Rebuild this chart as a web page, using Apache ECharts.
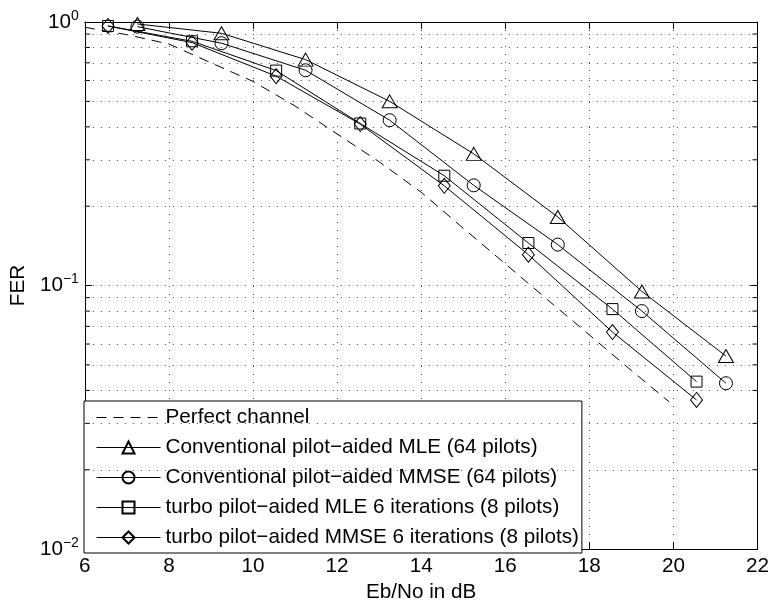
<!DOCTYPE html>
<html>
<head>
<meta charset="utf-8">
<script src="https://cdn.jsdelivr.net/npm/echarts@6/dist/echarts.min.js"></script>
<style>
  html, body { margin: 0; padding: 0; background: #fff; }
  #chart { width: 772px; height: 608px; }
</style>
</head>
<body>
<div id="chart"></div>
<script>
// Eb/No points (dB)
var xPerfect = [6, 7, 8, 9, 10, 11, 12, 13, 14, 15, 16, 17, 18, 19, 19.9];
var xConv = [7.25, 9.25, 11.25, 13.25, 15.25, 17.25, 19.25, 21.25];
var xTurbo = [6.55, 8.55, 10.55, 12.55, 14.55, 16.55, 18.55, 20.55];

// FER values
var ferPerfect = [0.955, 0.895, 0.825, 0.70, 0.595, 0.48, 0.376, 0.295, 0.226, 0.165, 0.121, 0.0885, 0.065, 0.0476, 0.0362];
var ferConvMLE = [0.983, 0.906, 0.72, 0.50, 0.316, 0.182, 0.095, 0.054];
var ferConvMMSE = [0.96, 0.831, 0.656, 0.424, 0.240, 0.143, 0.080, 0.0426];
var ferTurboMLE = [0.966, 0.845, 0.654, 0.412, 0.261, 0.145, 0.0814, 0.0432];
var ferTurboMMSE = [0.966, 0.835, 0.623, 0.410, 0.239, 0.131, 0.0666, 0.0368];

// minor log grid / tick values
var minorVals = [0.02, 0.03, 0.04, 0.05, 0.06, 0.07, 0.08, 0.09,
                 0.2, 0.3, 0.4, 0.5, 0.6, 0.7, 0.8, 0.9];

var names = [
  'Perfect channel',
  'Conventional pilot\u2212aided MLE (64 pilots)',
  'Conventional pilot\u2212aided MMSE (64 pilots)',
  'turbo pilot\u2212aided MLE 6 iterations (8 pilots)',
  'turbo pilot\u2212aided MMSE 6 iterations (8 pilots)'
];

function pairs(xs, ys) {
  return xs.map(function (x, i) { return [x, ys[i]]; });
}

var font = 'Liberation Sans, Arial, Helvetica, sans-serif';
var fs = 20.7;
var dotted = { color: '#444', width: 1, type: [1, 7] };

function markerSeries(name, xs, ys, symbol, size) {
  return {
    name: name,
    type: 'line',
    data: pairs(xs, ys),
    symbol: symbol,
    symbolSize: size,
    showAllSymbol: true,
    lineStyle: { color: '#000', width: 1 },
    itemStyle: { color: 'rgba(255,255,255,0)', borderColor: '#000', borderWidth: 1 },
    emphasis: { disabled: true },
    z: 3
  };
}

var chart = echarts.init(document.getElementById('chart'));
chart.setOption({
  animation: false,
  backgroundColor: '#fff',
  textStyle: { fontFamily: font },
  grid: { left: 84, right: 13, top: 22, bottom: 54 },
  legend: {
    data: [
      { name: names[0], itemStyle: { opacity: 0 } },
      names[1], names[2], names[3], names[4]
    ],
    orient: 'vertical',
    left: 84,
    top: 401,
    itemWidth: 64,
    itemHeight: 15,
    itemGap: 9,
    padding: [6, 3, 5, 12],
    backgroundColor: '#fff',
    borderColor: '#000',
    borderWidth: 1,
    borderRadius: 0,
    lineStyle: { width: 1 },
    textStyle: { fontSize: fs, color: '#000', fontFamily: font }
  },
  xAxis: [{
    type: 'value',
    position: 'bottom',
    min: 6, max: 22, interval: 2,
    name: 'Eb/No in dB',
    nameLocation: 'middle',
    nameGap: 31,
    nameTextStyle: { fontSize: fs, color: '#000' },
    axisLine: { lineStyle: { color: '#000', width: 1 } },
    axisTick: { inside: true, length: 7, lineStyle: { color: '#000' } },
    axisLabel: { fontSize: fs, color: '#000', margin: 7 },
    splitLine: { show: true, lineStyle: dotted }
  }, {
    type: 'value',
    position: 'top',
    min: 6, max: 22, interval: 2,
    axisLine: { lineStyle: { color: '#000', width: 1 } },
    axisTick: { inside: true, length: 7, lineStyle: { color: '#000' } },
    axisLabel: { show: false },
    splitLine: { show: false }
  }],
  yAxis: [{
    type: 'log',
    logBase: 10,
    min: 0.01, max: 1,
    position: 'left',
    name: 'FER',
    nameLocation: 'middle',
    nameGap: 52,
    nameTextStyle: { fontSize: fs, color: '#000' },
    axisLine: { show: true, lineStyle: { color: '#000', width: 1 } },
    axisTick: { inside: true, length: 7, lineStyle: { color: '#000' } },
    axisLabel: {
      margin: 6,
      formatter: function (v) {
        var e = Math.round(Math.log10(v));
        return '{b|10}{s|' + (e === 0 ? '0' : '\u2212' + (-e)) + '}';
      },
      rich: {
        b: { fontSize: fs, color: '#000', fontFamily: font },
        s: { fontSize: 14, color: '#000', fontFamily: font, padding: [0, 0, 12, 0] }
      }
    },
    splitLine: { show: true, lineStyle: dotted }
  }, {
    type: 'log',
    logBase: 10,
    min: 0.01, max: 1,
    position: 'right',
    axisLine: { show: true, lineStyle: { color: '#000', width: 1 } },
    axisTick: { inside: true, length: 7, lineStyle: { color: '#000' } },
    axisLabel: { show: false },
    splitLine: { show: false }
  }],
  series: [
    {
      name: names[0],
      type: 'line',
      data: pairs(xPerfect, ferPerfect),
      symbol: 'none',
      lineStyle: { color: '#000', width: 1, type: [10, 7] },
      itemStyle: { color: '#000' },
      emphasis: { disabled: true },
      z: 3,
      markLine: {
        silent: true,
        symbol: 'none',
        label: { show: false },
        lineStyle: dotted,
        data: minorVals.map(function (v) { return { yAxis: v }; })
      }
    },
    markerSeries(names[1], xConv, ferConvMLE, 'triangle', [15, 13]),
    markerSeries(names[2], xConv, ferConvMMSE, 'circle', 13),
    markerSeries(names[3], xTurbo, ferTurboMLE, 'rect', 11),
    markerSeries(names[4], xTurbo, ferTurboMMSE, 'diamond', [12, 15]),
    {
      // minor ticks of the log axis, on both sides
      type: 'custom',
      silent: true,
      data: minorVals.map(function (v) { return [6, v]; }),
      renderItem: function (params, api) {
        var v = api.value(1);
        var a = api.coord([6, v]);
        var b = api.coord([22, v]);
        return {
          type: 'group',
          children: [
            { type: 'line', shape: { x1: a[0], y1: a[1], x2: a[0] + 5, y2: a[1] }, style: { stroke: '#000', lineWidth: 1 } },
            { type: 'line', shape: { x1: b[0] - 5, y1: b[1], x2: b[0], y2: b[1] }, style: { stroke: '#000', lineWidth: 1 } }
          ]
        };
      },
      z: 4
    }
  ]
});
</script>
</body>
</html>
